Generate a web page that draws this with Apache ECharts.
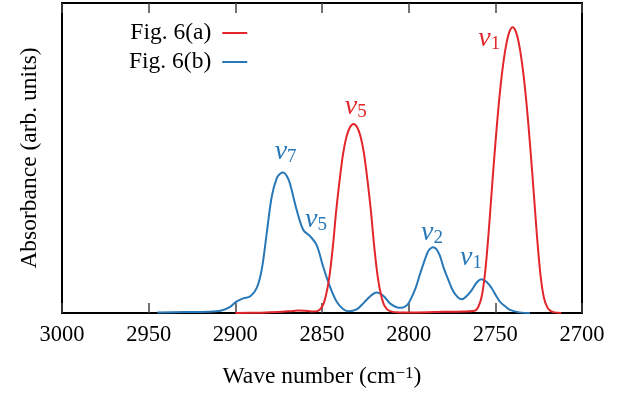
<!DOCTYPE html>
<html>
<head>
<meta charset="utf-8">
<script src="https://cdn.jsdelivr.net/npm/echarts@6/dist/echarts.min.js"></script>
<style>html,body{margin:0;padding:0;background:#fff}#c{width:630px;height:394px}</style>
</head>
<body>
<div id="c"></div>
<script>
var xTicks = [3000, 2950, 2900, 2850, 2800, 2750, 2700];
var seriesNames = ['Fig. 6(a)', 'Fig. 6(b)'];

var waveA = [2900, 2885, 2875, 2868, 2864, 2860, 2856, 2852.8, 2849.8, 2847.8, 2845.8, 2843.8, 2841.8, 2839.8, 2837.8, 2835.8, 2833.8, 2831.8, 2829.8, 2827.8, 2825.8, 2823.8, 2821.8, 2819.8, 2817.8, 2815.8, 2813.8, 2810.8, 2805, 2795, 2780, 2768, 2762, 2760, 2758, 2756, 2754, 2752, 2750, 2748, 2746, 2744, 2742, 2740, 2738, 2736, 2734, 2732, 2730, 2728, 2726, 2724, 2722, 2720, 2718, 2716, 2712, 2700];
var absA = [0, 0.001, 0.003, 0.006, 0.008, 0.007, 0.005, 0.006, 0.022, 0.055, 0.115, 0.21, 0.33, 0.43, 0.515, 0.57, 0.6, 0.61, 0.6, 0.57, 0.515, 0.43, 0.33, 0.21, 0.115, 0.055, 0.022, 0.006, 0.002, 0.002, 0.004, 0.005, 0.007, 0.018, 0.05, 0.125, 0.25, 0.4, 0.545, 0.675, 0.78, 0.857, 0.905, 0.922, 0.905, 0.857, 0.78, 0.675, 0.545, 0.4, 0.25, 0.125, 0.05, 0.018, 0.006, 0.002, 0];

var waveB = [2945, 2930, 2915, 2908, 2903, 2899.6, 2895.4, 2891.5, 2887.7, 2884.8, 2881.9, 2879, 2876.1, 2874.2, 2872.3, 2870.4, 2868.5, 2864.6, 2860.8, 2856.9, 2853.1, 2849.3, 2845.4, 2841.5, 2837.7, 2834.8, 2830, 2826.2, 2822, 2818.5, 2814.5, 2810.8, 2806.5, 2804, 2801, 2799.2, 2796, 2793.5, 2789.5, 2788, 2786, 2784, 2782, 2780, 2777, 2774.2, 2771.5, 2769.4, 2766.5, 2763.6, 2760.5, 2757.9, 2755, 2752.1, 2749.5, 2747.3, 2744, 2741.5, 2736, 2730];
var absB = [0.002, 0.003, 0.004, 0.008, 0.02, 0.036, 0.047, 0.053, 0.08, 0.139, 0.257, 0.375, 0.435, 0.449, 0.453, 0.443, 0.418, 0.332, 0.268, 0.248, 0.219, 0.149, 0.085, 0.036, 0.012, 0.006, 0.012, 0.031, 0.055, 0.066, 0.055, 0.031, 0.018, 0.017, 0.025, 0.04, 0.08, 0.125, 0.19, 0.205, 0.212, 0.206, 0.185, 0.149, 0.105, 0.069, 0.05, 0.044, 0.055, 0.074, 0.1, 0.109, 0.1, 0.08, 0.055, 0.036, 0.02, 0.01, 0.002, 0];

var labelsA = [{t: '1', x: 2753.5, y: 0.885}, {t: '5', x: 2830.5, y: 0.665}];
var labelsB = [{t: '7', x: 2871, y: 0.52}, {t: '5', x: 2853.5, y: 0.30}, {t: '2', x: 2786.5, y: 0.26}, {t: '1', x: 2764, y: 0.18}];

var RED = '#e2262b', BLUE = '#2878b8';
var FONT = '"Liberation Serif", "Times New Roman", serif';

function pairs(xs, ys) { return xs.map(function (x, i) { return [x, ys[i]]; }); }
function marks(list, color) {
  return {
    symbol: 'circle', symbolSize: 0, silent: true,
    label: {
      show: true, position: 'inside', color: color,
      formatter: function (p) { return '{v|ν}{s|' + p.name + '}'; },
      rich: {
        v: {fontFamily: FONT, fontSize: 28, fontStyle: 'italic', color: color, lineHeight: 30},
        s: {fontFamily: FONT, fontSize: 19, color: color, lineHeight: 16, verticalAlign: 'bottom'}
      }
    },
    data: list.map(function (d) { return {name: d.t, coord: [d.x, d.y]}; })
  };
}

var chart = echarts.init(document.getElementById('c'), null, {renderer: 'canvas'});
chart.setOption({
  animation: false,
  backgroundColor: '#fff',
  grid: {left: 62, right: 48, top: 3, bottom: 81, show: true, borderColor: '#000', borderWidth: 2, backgroundColor: 'transparent'},
  legend: {
    orient: 'vertical', left: 124, top: 15, align: 'right', itemGap: 3,
    itemWidth: 25, itemHeight: 2, icon: 'rect',
    textStyle: {fontFamily: FONT, fontSize: 23.5, color: '#000', lineHeight: 26, padding: [0, 6, 0, 0]},
    data: seriesNames
  },
  xAxis: [{
    type: 'value', min: 2700, max: 3000, interval: 50, inverse: true,
    axisLine: {show: false},
    axisTick: {show: true, inside: true, length: 10, lineStyle: {color: '#444', width: 1.5}},
    axisLabel: {fontFamily: FONT, fontSize: 22.5, color: '#000', margin: 11,
      formatter: function (v) { return xTicks.indexOf(v) >= 0 ? String(v) : ''; },
      showMinLabel: true, showMaxLabel: true},
    splitLine: {show: false},
    name: 'Wave number (cm{sup|−1})', nameLocation: 'middle', nameGap: 52,
    nameTextStyle: {fontFamily: FONT, fontSize: 23.5, color: '#000',
      rich: {sup: {fontFamily: FONT, fontSize: 17, color: '#000', verticalAlign: 'top', lineHeight: 12}}}
  }, {
    type: 'value', position: 'top', min: 2700, max: 3000, interval: 50, inverse: true,
    axisLine: {show: false},
    axisTick: {show: true, inside: true, length: 10, lineStyle: {color: '#444', width: 1.5}},
    axisLabel: {show: false}, splitLine: {show: false}
  }],
  yAxis: {
    type: 'value', min: 0, max: 1,
    axisLine: {show: false}, axisTick: {show: false}, axisLabel: {show: false}, splitLine: {show: false},
    name: 'Absorbance (arb. units)', nameLocation: 'middle', nameGap: 20,
    nameTextStyle: {fontFamily: FONT, fontSize: 23.5, color: '#000'}
  },
  series: [{
    name: seriesNames[0], type: 'line', data: pairs(waveA, absA), smooth: 0.3,
    symbol: 'none', lineStyle: {color: RED, width: 2}, itemStyle: {color: RED},
    markPoint: marks(labelsA, RED), z: 3
  }, {
    name: seriesNames[1], type: 'line', data: pairs(waveB, absB), smooth: 0.35,
    symbol: 'none', lineStyle: {color: BLUE, width: 2}, itemStyle: {color: BLUE},
    markPoint: marks(labelsB, BLUE), z: 2
  }]
});
</script>
</body>
</html>
